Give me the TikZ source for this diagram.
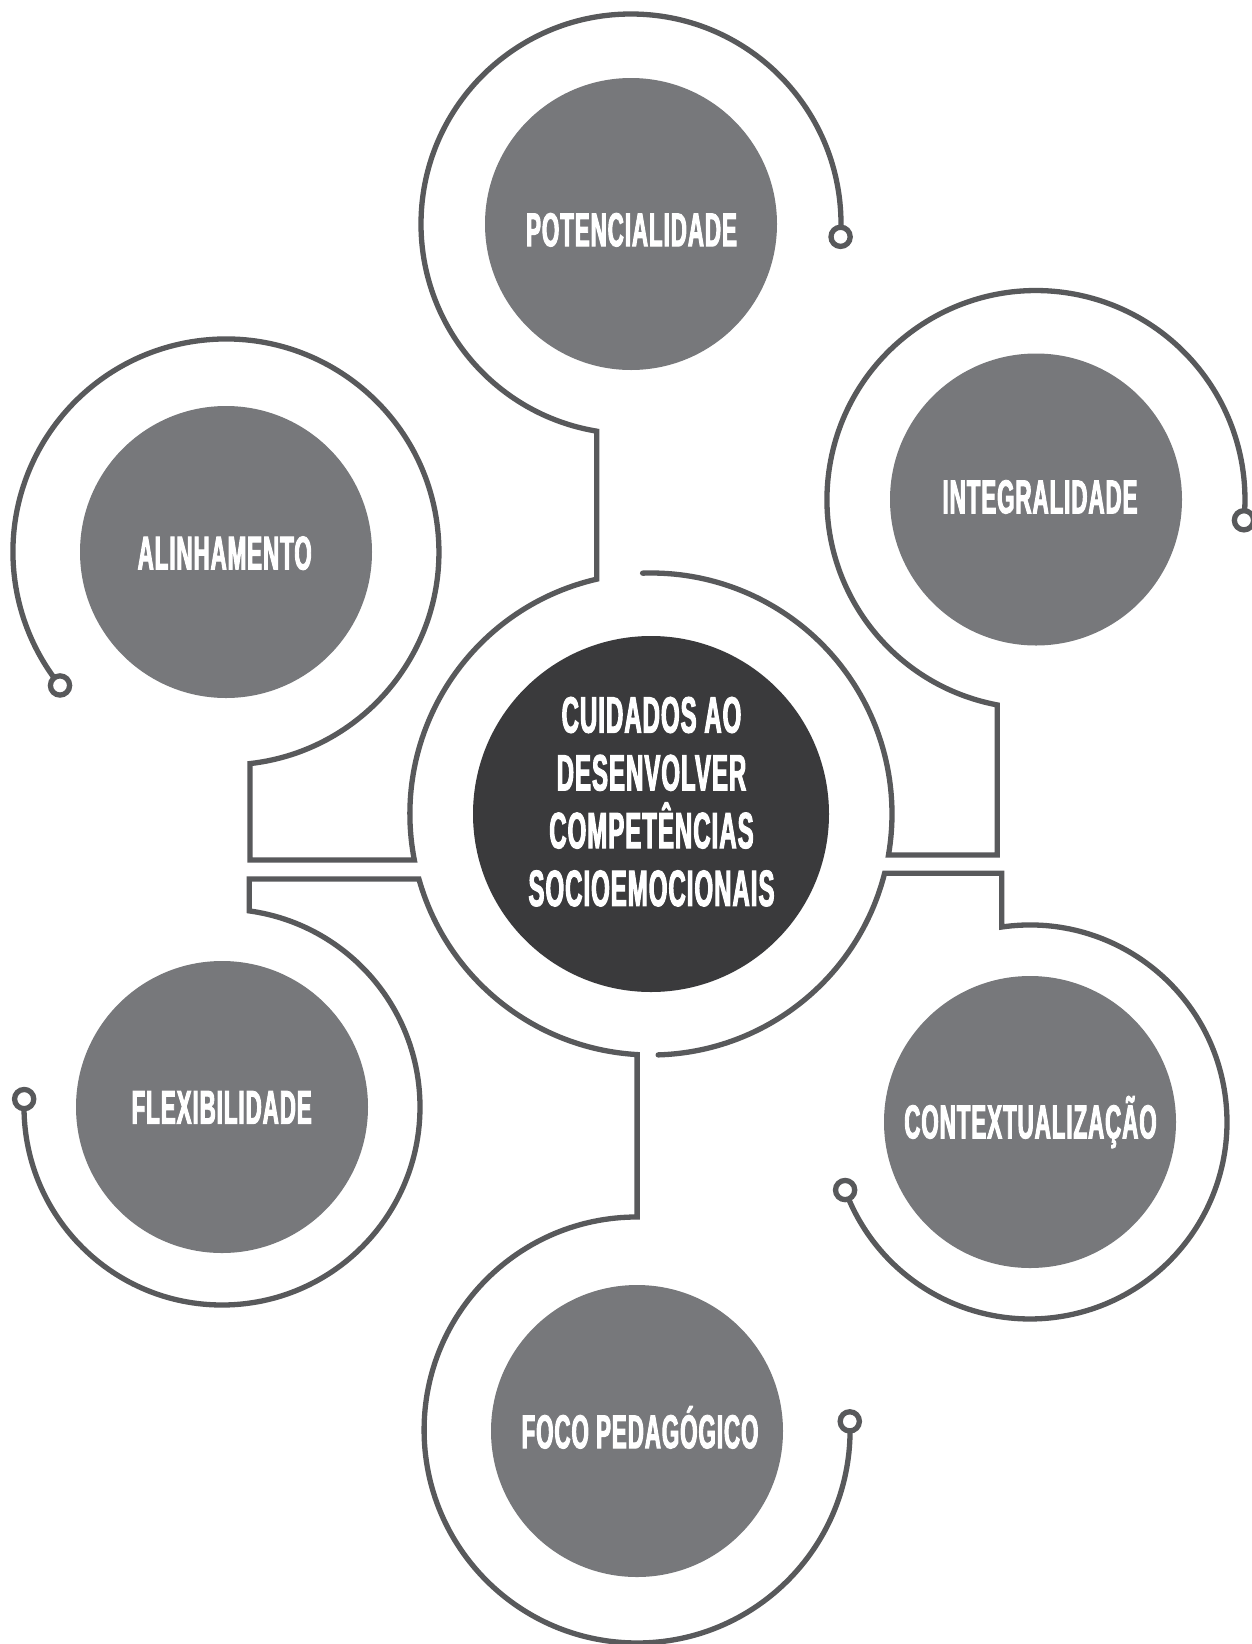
\documentclass[tikz,border=0pt]{standalone}
\usepackage{fontspec}
\usetikzlibrary{calc}
\newfontfamily\labelfont{Liberation Sans Bold}[FakeStretch=0.47,FakeBold=2,LetterSpace=2]
\definecolor{ringgray}{HTML}{58595B}
\definecolor{satgray}{HTML}{77787B}
\definecolor{coredark}{HTML}{3A3A3C}
\begin{document}
\begin{tikzpicture}[x=1pt,y=-1pt,
  wire/.style={draw=ringgray, line width=5.3pt, line cap=round, line join=miter},
  tip/.style={draw=ringgray, line width=5.3pt, fill=white},
  satellite/.style={circle, fill=satgray, minimum size=292pt, inner sep=0pt},
  core/.style={circle, fill=coredark, minimum size=356pt, inner sep=0pt},
  satlabel/.style={text=white, font=\labelfont\fontsize{47.5}{50}\selectfont,
    text height=34pt, text depth=0pt, inner sep=0pt},
  corelabel/.style={text=white, font=\labelfont\fontsize{51}{57.8}\selectfont,
    align=center, inner sep=0pt}]
\fill[white] (0,0) rectangle (1251,1644);
\useasboundingbox (0,0) rectangle (1251,1644);

% filled discs
\node[core] (core) at (651,814) {};
\node[satellite] (pot) at (631,224) {};
\node[satellite] (ali) at (226,552) {};
\node[satellite] (integ) at (1036,499.5) {};
\node[satellite] (flex) at (222,1107) {};
\node[satellite] (ctx) at (1030,1122) {};
\node[satellite] (foco) at (637,1431) {};

% upper-left track: Potencialidade -> core ring -> Alinhamento
\draw[wire] ($(pot)+(1:210)$) arc[start angle=1, end angle=-260.6, radius=210]
  -- ++(0,148) arc[start angle=-103, end angle=-191, radius=241]
  -- ++(-164.3,0) -- ++(0,-96.4)
  arc[start angle=83.5, end angle=-216.3, radius=213];

% lower-left track: Flexibilidade -> core ring -> Foco pedagogico
\draw[wire] ($(flex)+(179.6:198)$) arc[start angle=179.6, end angle=-82.1, radius=198]
  -- ++(0,-31.9) -- ++(169.7,0) arc[start angle=164.35, end angle=93.3, radius=241]
  -- ++(0,162.4) arc[start angle=-90, end angle=-359.7, radius=213];

% lower-right track: core ring -> Contextualizacao
\draw[wire] ($(core)+(88.3:241)$) arc[start angle=88.3, end angle=14.25, radius=241]
  -- ++(117.1,0) -- ++(0,53.7) arc[start angle=-98.26, end angle=157.1, radius=197];

% upper-right track: core ring -> Integralidade
\draw[wire] ($(core)+(-92:241)$) arc[start angle=-92, end angle=9.8, radius=241]
  -- ++(108.8,0) -- ++(0,-150.1) arc[start angle=100.67, end angle=363.1, radius=209];

% end rings of the tracks
\draw[tip] ($(pot)+(3.5:210)$) circle[radius=9.6];
\draw[tip] ($(ali)+(-218.8:213)$) circle[radius=9.6];
\draw[tip] ($(flex)+(182.3:198)$) circle[radius=9.6];
\draw[tip] ($(foco)+(-2.6:213)$) circle[radius=9.6];
\draw[tip] ($(ctx)+(159.8:197)$) circle[radius=9.6];
\draw[tip] ($(integ)+(365.7:209)$) circle[radius=9.6];

% texts
\node[corelabel] (coretext) at (651.5,801.7)
  {CUIDADOS AO\\DESENVOLVER\\COMPETÊNCIAS\\SOCIOEMOCIONAIS};
\node[satlabel] (pottext) at (631.5,229.2) {POTENCIALIDADE};
\node[satlabel] (alitext) at (224.7,552.5) {ALINHAMENTO};
\node[satlabel] (integtext) at (1040,496.3) {INTEGRALIDADE};
\node[satlabel] (flextext) at (221.7,1106.7) {FLEXIBILIDADE};
\node[satlabel] (ctxtext) at (1030.5,1121.3) {CONTEXTUALIZAÇÃO};
\node[satlabel] (focotext) at (640,1431.2) {FOCO PEDAGÓGICO};
\end{tikzpicture}
\end{document}
